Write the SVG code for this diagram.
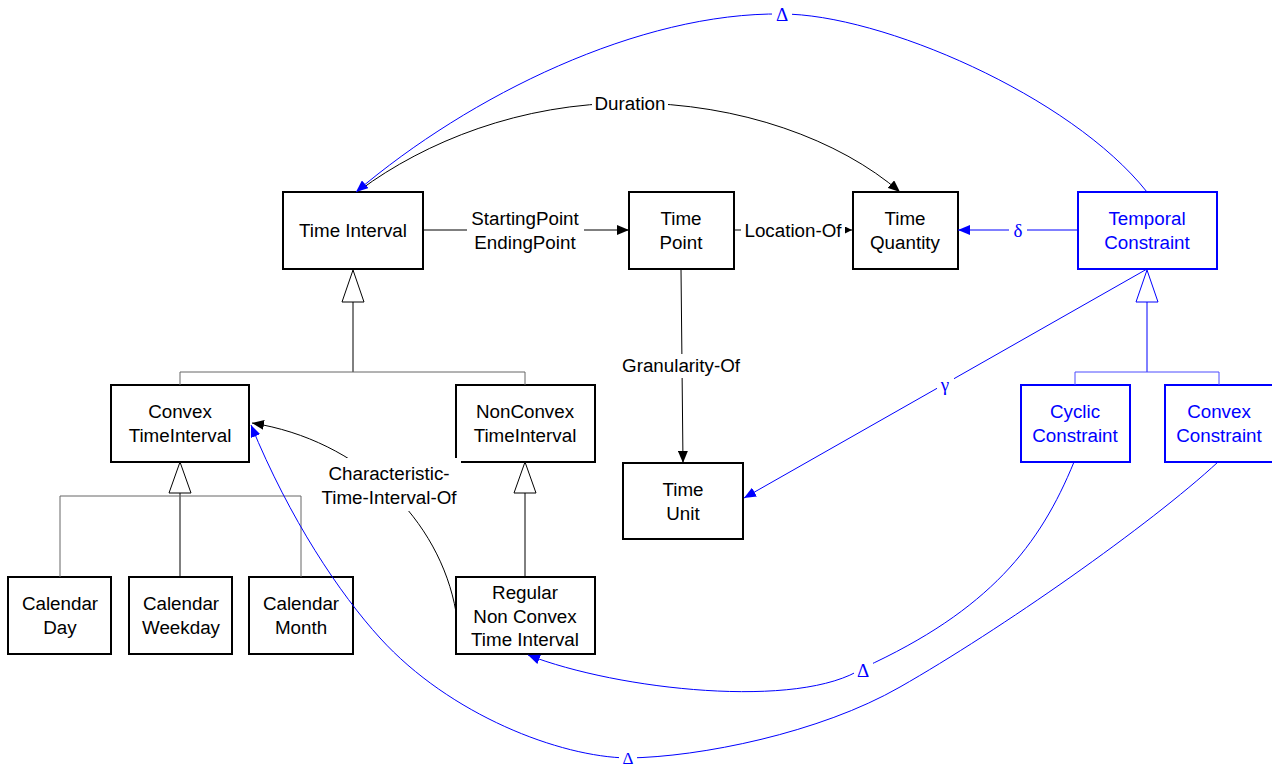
<svg xmlns="http://www.w3.org/2000/svg" width="1272" height="766" viewBox="0 0 1272 766">
<style>
.node rect{fill:#fff;stroke:#000;stroke-width:2}
.node text{fill:#000}
.bnode rect{fill:#fff;stroke:#0000ff;stroke-width:2}
.bnode text{fill:#0000ff}
text{font-family:"Liberation Sans",Arial,sans-serif;font-size:18.8px;text-anchor:middle}
.g{font-family:"Liberation Serif","Times New Roman",serif;font-size:19px;fill:#0000ff}
.c{fill:none;stroke:#000;stroke-width:1}
.cb{fill:none;stroke:#0000ff;stroke-width:1}
.br{fill:none;stroke:#666;stroke-width:1}
.brb{fill:none;stroke:#4d4dff;stroke-width:1}
.tri{fill:#fff;stroke:#000;stroke-width:1}
.trib{fill:#fff;stroke:#0000ff;stroke-width:1}
.lbl{fill:#fff;stroke:none}
</style>
<defs>
<marker id="ab" markerUnits="userSpaceOnUse" markerWidth="12" markerHeight="10" refX="12" refY="5" orient="auto"><path d="M0,0 L12,5 L0,10 z" fill="#000"/></marker>
<marker id="as" markerUnits="userSpaceOnUse" markerWidth="7" markerHeight="7" refX="7" refY="3.5" orient="auto"><path d="M0,0 L7,3.5 L0,7 z" fill="#000"/></marker>
<marker id="au" markerUnits="userSpaceOnUse" markerWidth="12" markerHeight="10" refX="12" refY="5" orient="auto"><path d="M0,0 L12,5 L0,10 z" fill="#0000ff"/></marker>
</defs>

<g id="nodes">
<g id="time-interval" class="node"><rect x="283" y="192" width="140" height="77"/><text x="353" y="237">Time Interval</text></g>
<g id="time-point" class="node"><rect x="629" y="192" width="105" height="77"/><text x="681" y="225">Time</text><text x="681" y="249">Point</text></g>
<g id="time-quantity" class="node"><rect x="853" y="192" width="105" height="77"/><text x="905" y="225">Time</text><text x="905" y="249">Quantity</text></g>
<g id="temporal-constraint" class="bnode"><rect x="1078" y="192" width="139" height="77"/><text x="1147" y="225">Temporal</text><text x="1147" y="249">Constraint</text></g>
<g id="convex-timeinterval" class="node"><rect x="111" y="385" width="138" height="77"/><text x="180" y="418">Convex</text><text x="180" y="442">TimeInterval</text></g>
<g id="nonconvex-timeinterval" class="node"><rect x="456" y="385" width="139" height="77"/><text x="525" y="418">NonConvex</text><text x="525" y="442">TimeInterval</text></g>
<g id="time-unit" class="node"><rect x="623" y="463" width="120" height="76"/><text x="683" y="496">Time</text><text x="683" y="520">Unit</text></g>
<g id="cyclic-constraint" class="bnode"><rect x="1021" y="385" width="109" height="77"/><text x="1075" y="418">Cyclic</text><text x="1075" y="442">Constraint</text></g>
<g id="convex-constraint" class="bnode"><rect x="1165" y="385" width="110" height="77"/><text x="1219" y="418">Convex</text><text x="1219" y="442">Constraint</text></g>
<g id="calendar-day" class="node"><rect x="8" y="577" width="103" height="77"/><text x="60" y="610">Calendar</text><text x="60" y="634">Day</text></g>
<g id="calendar-weekday" class="node"><rect x="129" y="577" width="103" height="77"/><text x="181" y="610">Calendar</text><text x="181" y="634">Weekday</text></g>
<g id="calendar-month" class="node"><rect x="249" y="577" width="104" height="77"/><text x="301" y="610">Calendar</text><text x="301" y="634">Month</text></g>
<g id="regular-nonconvex" class="node"><rect x="456" y="577" width="139" height="77"/><text x="525" y="599">Regular</text><text x="525" y="623">Non Convex</text><text x="525" y="646">Time Interval</text></g>
</g>

<g id="connectors">
<!-- inheritance -->
<polygon class="tri" points="353,270 342,302 364,302"/>
<line class="c" x1="353" y1="302" x2="353" y2="372"/>
<polyline class="br" points="180,385 180,372 525,372 525,385"/>
<polygon class="tri" points="180,462 169,493 191,493"/>
<line class="c" x1="180" y1="493" x2="180" y2="577"/>
<polyline class="br" points="60,577 60,496 301,496 301,577"/>
<polygon class="tri" points="525,462 514,493 536,493"/>
<line class="c" x1="525" y1="493" x2="525" y2="577"/>
<polygon class="trib" points="1147,270 1136,302 1158,302"/>
<line class="cb" x1="1147" y1="302" x2="1147" y2="372"/>
<polyline class="brb" points="1075,385 1075,372 1219,372 1219,385"/>

<!-- associations -->
<line class="c" x1="423" y1="230" x2="629" y2="230" marker-end="url(#ab)"/>
<rect class="lbl" x="467" y="206" width="117" height="48"/>
<text x="525" y="225">StartingPoint</text><text x="525" y="249">EndingPoint</text>

<line class="c" x1="734" y1="230" x2="852" y2="230" marker-end="url(#as)"/>
<rect class="lbl" x="741" y="220" width="104" height="22"/>
<text x="793" y="237">Location-Of</text>

<line class="cb" x1="1078" y1="230" x2="958" y2="230" marker-end="url(#au)"/>
<rect class="lbl" x="1009" y="220" width="18" height="20"/>
<text class="g" x="1018" y="237">δ</text>

<path class="c" d="M360,190 C425,142 520,103 630,103 C740,103 840,140 900,192" marker-end="url(#ab)"/>
<rect class="lbl" x="592" y="91" width="76" height="24"/>
<text x="630" y="110">Duration</text>

<path class="cb" d="M1147,192 C1070,95 880,14 782,14 C640,12 470,95 356,192" marker-end="url(#au)"/>
<rect class="lbl" x="772" y="3" width="20" height="22"/>
<text class="g" x="782" y="21">Δ</text>

<line class="cb" x1="1147" y1="269" x2="744" y2="498" marker-end="url(#au)"/>
<rect class="lbl" x="937" y="376" width="17" height="22"/>
<text class="g" x="945" y="391">γ</text>

<line class="c" x1="681" y1="269" x2="683" y2="463" marker-end="url(#ab)"/>
<rect class="lbl" x="618" y="354" width="126" height="24"/>
<text x="681" y="372">Granularity-Of</text>

<path class="c" d="M456,612 C440,520 360,440 252,423" marker-end="url(#ab)"/>
<rect class="lbl" x="318" y="458" width="143" height="53"/>
<text x="389" y="480">Characteristic-</text><text x="389" y="504">Time-Interval-Of</text>

<path class="cb" d="M1074,462 C1040,545 990,610 863,668 C800,710 618,690 528,655" marker-end="url(#au)"/>
<rect class="lbl" x="854" y="659" width="19" height="21"/>
<text class="g" x="863" y="677">Δ</text>

<path class="cb" d="M1218,462 C1150,525 1000,630 900,687 C820,733 700,757 628,758 C560,757 450,715 380,638 C340,594 290,520 251,425" marker-end="url(#au)"/>
<rect class="lbl" x="619" y="749" width="18" height="17"/>
<text class="g" x="628" y="764" style="font-size:17px">Δ</text>
</g>
</svg>
